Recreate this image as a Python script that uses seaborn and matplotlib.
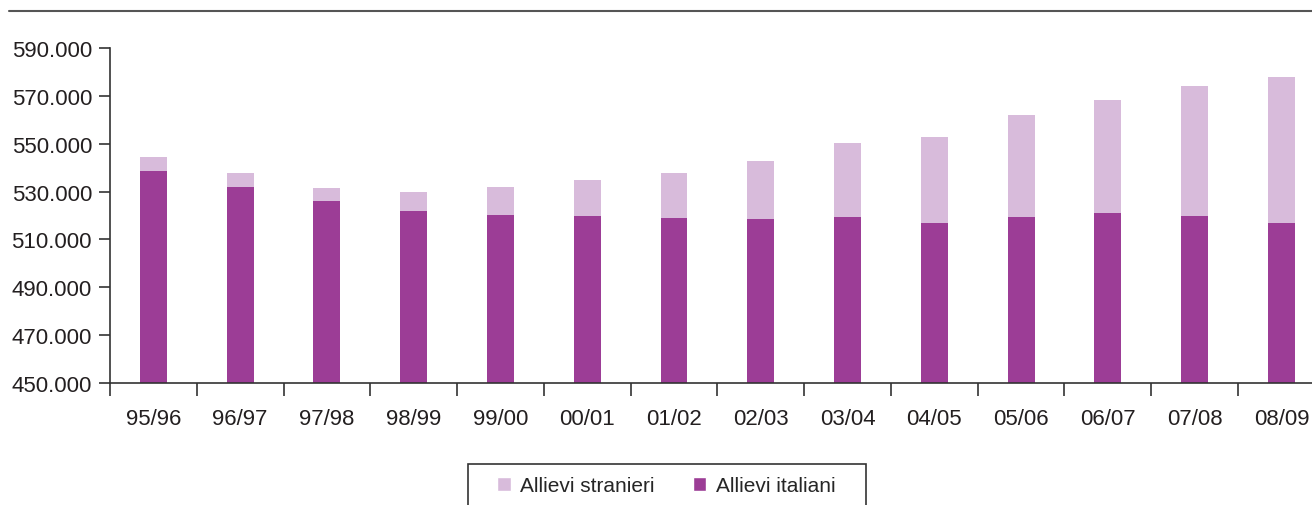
import numpy as np
import pandas as pd
import matplotlib
matplotlib.use("Agg")
import matplotlib.pyplot as plt
import seaborn as sns
from matplotlib.lines import Line2D
from matplotlib.patches import Patch, Rectangle
from matplotlib.ticker import FuncFormatter, FixedLocator

years = ["95/96", "96/97", "97/98", "98/99", "99/00", "00/01", "01/02",
         "02/03", "03/04", "04/05", "05/06", "06/07", "07/08", "08/09"]
totale = [544500, 537800, 531500, 529800, 531900, 534800, 537800,
          542800, 550300, 552800, 562000, 568300, 574100, 577900]
italiani = [538600, 531900, 526100, 521900, 520100, 519800, 519000,
            518500, 519400, 516900, 519400, 521000, 519800, 516900]

col_it = "#9C3D96"
col_str = "#D8BBDB"

df = pd.DataFrame({"anno": years, "totale": totale, "italiani": italiani})

sns.set_style("white")
plt.rcParams["font.family"] = ["Liberation Sans", "DejaVu Sans"]

W, H = 1312, 506
fig = plt.figure(figsize=(W / 100, H / 100), dpi=100)
ax = fig.add_axes([110 / W, 122 / H, 1214.8 / W, 335 / H])

sns.barplot(data=df, x="anno", y="totale", color=col_str, width=0.31,
            saturation=1, linewidth=0, ax=ax)
sns.barplot(data=df, x="anno", y="italiani", color=col_it, width=0.31,
            saturation=1, linewidth=0, ax=ax)

ax.set_xlim(-0.5, len(years) - 0.5)
ax.set_ylim(450000, 590000)
ax.set_yticks(np.arange(450000, 590001, 20000))
ax.yaxis.set_major_formatter(
    FuncFormatter(lambda v, p: f"{int(v):,}".replace(",", ".")))
ax.set_xlabel("")
ax.set_ylabel("")

ax.xaxis.set_minor_locator(FixedLocator(np.arange(-0.5, len(years), 1)))
ax.tick_params(axis="x", which="major", length=0, pad=18, labelsize=16,
               labelcolor="#231f20")
ax.tick_params(axis="x", which="minor", length=9, width=1.2, color="#333333",
               bottom=True)
ax.tick_params(axis="y", length=8, width=1.2, color="#333333", pad=5,
               labelsize=16, labelcolor="#231f20", left=True)

sns.despine(ax=ax)
for s in ["left", "bottom"]:
    ax.spines[s].set_color("#333333")
    ax.spines[s].set_linewidth(1.2)

# linea in alto
fig.add_artist(Line2D([9 / W, 1], [1 - 12 / H, 1 - 12 / H],
                      color="#555555", linewidth=1.5))

# riquadro legenda (tagliato in basso)
fig.add_artist(Rectangle((468 / W, -20 / H), (866 - 468) / W, (H - 465 + 20) / H,
                         transform=fig.transFigure, facecolor="none",
                         edgecolor="#333333", linewidth=1.2, clip_on=False))

handles = [Patch(facecolor=col_str, label="Allievi stranieri"),
           Patch(facecolor=col_it, label="Allievi italiani")]
leg = fig.legend(handles=handles, loc="upper left", ncol=2,
                 bbox_to_anchor=(497 / W, 1 - 477 / H), fontsize=15,
                 frameon=False, handlelength=0.65, handleheight=0.65,
                 handletextpad=0.45, columnspacing=1.85,
                 borderpad=0, borderaxespad=0)

fig.savefig("out.png", dpi=100)
